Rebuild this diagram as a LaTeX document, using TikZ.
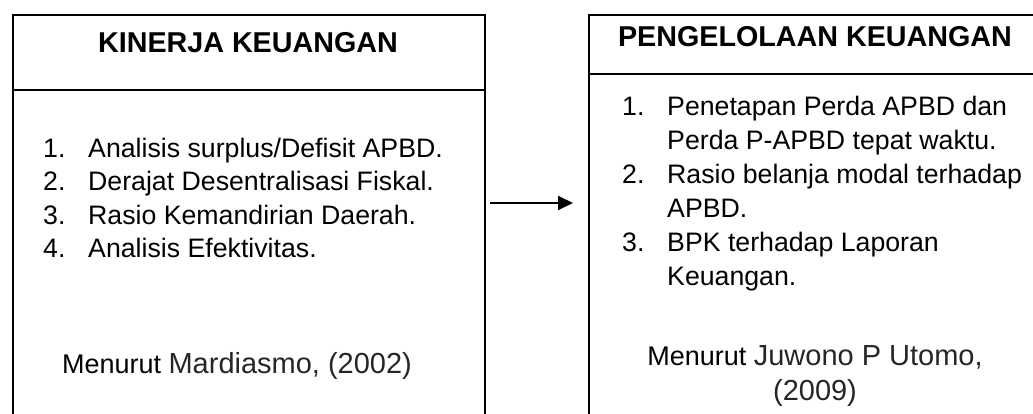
\documentclass[tikz,border=0pt]{standalone}
\usepackage{fontspec}
\setmainfont{Liberation Sans}
\usetikzlibrary{arrows.meta}
\begin{document}
\begin{tikzpicture}[x=1pt,y=-1pt,
  boxline/.style={draw, line width=2pt, inner sep=0pt, anchor=north west},
  divline/.style={line width=2pt},
  ttl/.style={font=\fontsize{28.7}{34}\selectfont\bfseries, anchor=base, inner sep=0pt},
  itm/.style={font=\fontsize{26.7}{33}\selectfont, anchor=base west, inner sep=0pt},
  src/.style={font=\fontsize{27}{32}\selectfont, anchor=base, inner sep=0pt},
  srcbig/.style={font=\fontsize{29}{35}\selectfont, text=black!85, anchor=base, inner sep=0pt},
  conn/.style={line width=2pt, -{Triangle[length=15pt,width=14pt]}}
]
\useasboundingbox (0,0) rectangle (1033,414);
\clip (0,0) rectangle (1033,414);

% boxes
\node[boxline, minimum width=472pt, minimum height=440pt] (kin) at (12,14) {};
\node[boxline, minimum width=454pt, minimum height=440pt] (peng) at (588,14) {};
\coordinate (d1) at (0,90);
\coordinate (d2) at (0,74);
\draw[divline] (kin.west |- d1) -- (kin.east |- d1);
\draw[divline] (peng.west |- d2) -- (peng.east |- d2);

% titles
\node[ttl] (t1) at (248,53) {KINERJA KEUANGAN};
\node[ttl] (t2) at (815,47) {PENGELOLAAN KEUANGAN};

% left list
\node[itm] (ln1) at (43,158) {1.};
\node[itm] (lt1) at (88,158) {Analisis surplus/Defisit APBD.};
\node[itm] (ln2) at (43,191) {2.};
\node[itm] (lt2) at (88,191) {Derajat Desentralisasi Fiskal.};
\node[itm] (ln3) at (43,224) {3.};
\node[itm] (lt3) at (88,224) {Rasio Kemandirian Daerah.};
\node[itm] (ln4) at (43,257) {4.};
\node[itm] (lt4) at (88,257) {Analisis Efektivitas.};

% right list
\node[itm] (rn1) at (622,116) {1.};
\node[itm] (rt1) at (667,116) {Penetapan Perda APBD dan};
\node[itm] (rt1b) at (667,149.8) {Perda P-APBD tepat waktu.};
\node[itm] (rn2) at (622,183.6) {2.};
\node[itm] (rt2) at (667,183.6) {Rasio belanja modal terhadap};
\node[itm] (rt2b) at (667,217.4) {APBD.};
\node[itm] (rn3) at (622,251.2) {3.};
\node[itm] (rt3) at (667,251.2) {BPK terhadap Laporan};
\node[itm] (rt3b) at (667,285) {Keuangan.};

% sources
\node[src] (s1) at (237,373) {Menurut {\fontsize{29}{35}\selectfont\color{black!85}Mardiasmo, (2002)}};
\node[src] (s2) at (815,365) {Menurut {\fontsize{29}{35}\selectfont\color{black!85}Juwono P Utomo,}};
\node[srcbig] (s3) at (815,400) {(2009)};

% connector
\coordinate (a1) at (490,203);
\coordinate (a2) at (573,203);
\draw[conn] (a1) -- (a2);
\end{tikzpicture}
\end{document}
